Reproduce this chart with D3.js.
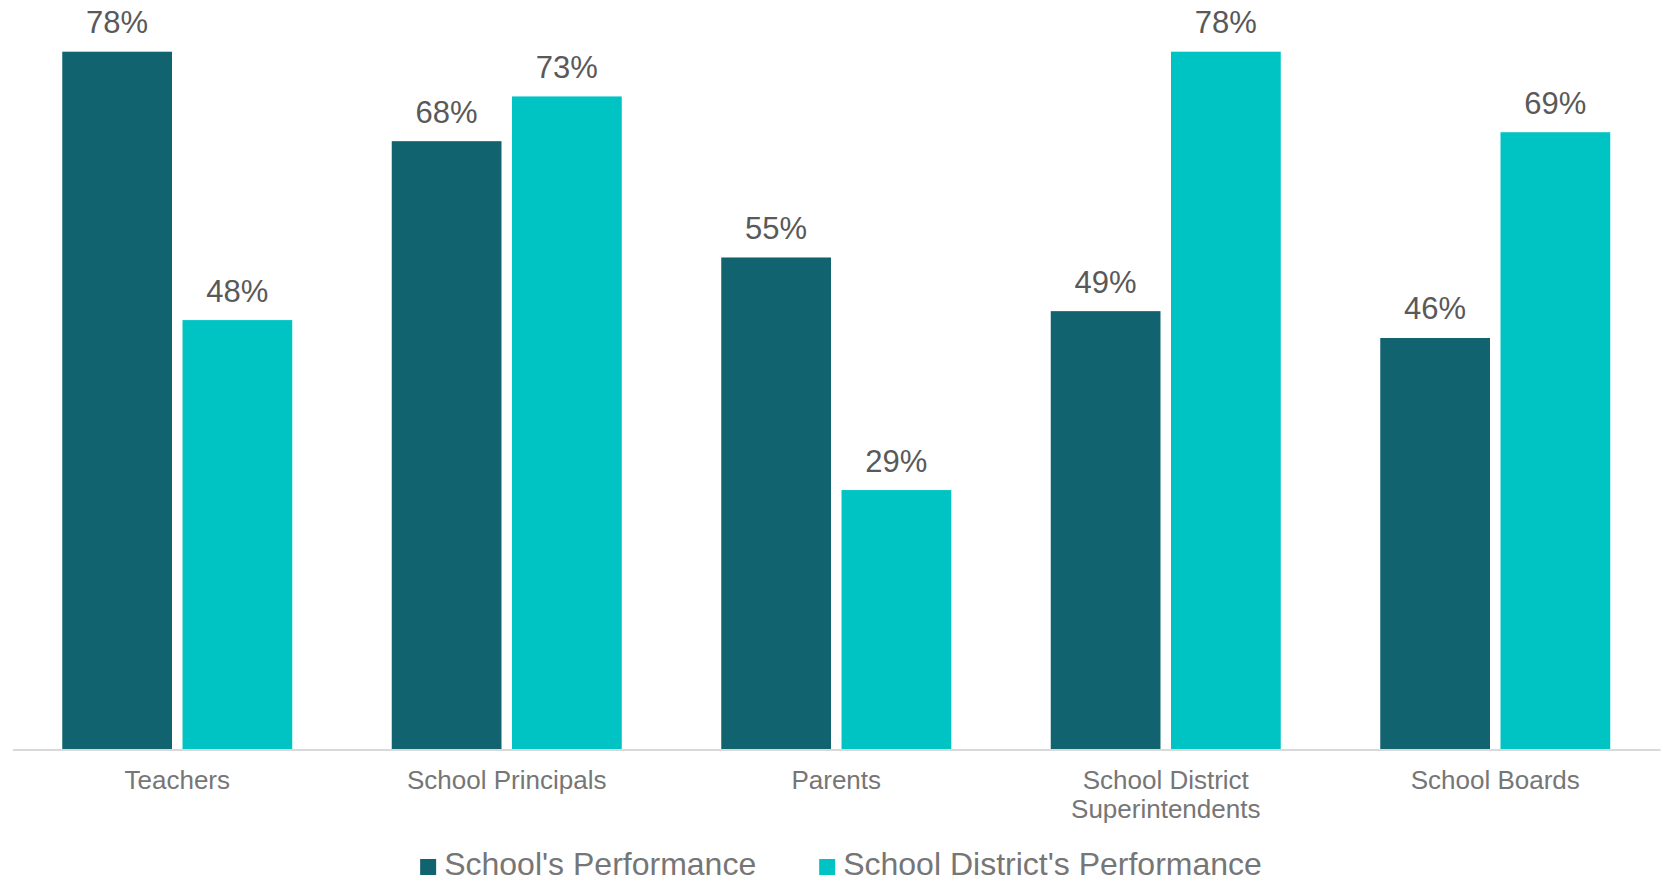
<!DOCTYPE html>
<html>
<head>
<meta charset="utf-8">
<script src="https://cdn.jsdelivr.net/npm/d3@7"></script>
<style>
  html, body { margin: 0; padding: 0; background: #ffffff; }
  svg { display: block; font-family: "Liberation Sans", Arial, sans-serif; }
</style>
</head>
<body>
<svg id="chart" width="1663" height="882"></svg>
<script>
const categories = ["Teachers", "School Principals", "Parents", "School District Superintendents", "School Boards"];
const seriesNames = ["School's Performance", "School District's Performance"];
const schoolValues = [78, 68, 55, 49, 46];
const districtValues = [48, 73, 29, 78, 69];
const seriesColors = ["#116370", "#00C3C3"];

const svg = d3.select("#chart");
const baseY = 749.5;

const x0 = d3.scaleBand()
  .domain(categories)
  .range([12.5, 1660])
  .paddingInner(0.302)
  .paddingOuter(0.151);

const x1 = d3.scaleBand()
  .domain(seriesNames)
  .range([0, x0.bandwidth()])
  .paddingInner(0.0875)
  .paddingOuter(0);

const y = d3.scaleLinear().domain([0, 80]).range([baseY, baseY - 80 * 8.946]);

const data = categories.map((c, i) => ({
  cat: c,
  vals: [
    { s: seriesNames[0], v: schoolValues[i], color: seriesColors[0] },
    { s: seriesNames[1], v: districtValues[i], color: seriesColors[1] }
  ]
}));

const groups = svg.append("g").selectAll("g")
  .data(data).join("g")
  .attr("transform", d => `translate(${x0(d.cat)},0)`);

groups.selectAll("rect")
  .data(d => d.vals).join("rect")
  .attr("x", d => x1(d.s))
  .attr("width", x1.bandwidth())
  .attr("y", d => y(d.v))
  .attr("height", d => y(0) - y(d.v))
  .attr("fill", d => d.color);

groups.selectAll("text.val")
  .data(d => d.vals).join("text")
  .attr("class", "val")
  .attr("x", d => x1(d.s) + x1.bandwidth() / 2)
  .attr("y", d => y(d.v) - 18.5)
  .attr("text-anchor", "middle")
  .attr("font-size", 31)
  .attr("fill", "#595959")
  .text(d => d.v + "%");

// x axis
const xAxis = d3.axisBottom(x0).tickSize(0).tickSizeOuter(0);
const axisG = svg.append("g")
  .attr("transform", `translate(0,${baseY})`)
  .call(xAxis);
axisG.select(".domain").attr("stroke", "#D9D9D9").attr("stroke-width", 2);
axisG.selectAll(".tick text")
  .attr("font-family", "Liberation Sans, Arial, sans-serif")
  .attr("font-size", 26)
  .attr("fill", "#767676")
  .attr("y", 39.5)
  .attr("dy", 0)
  .each(function () {
    const t = d3.select(this);
    const words = t.text().split(/\s+/);
    const maxW = 300;
    t.text(null);
    let line = [];
    let tspan = t.append("tspan").attr("x", 0).attr("dy", 0);
    words.forEach(w => {
      line.push(w);
      tspan.text(line.join(" "));
      if (tspan.node().getComputedTextLength() > maxW && line.length > 1) {
        line.pop();
        tspan.text(line.join(" "));
        line = [w];
        tspan = t.append("tspan").attr("x", 0).attr("dy", 28.6).text(w);
      }
    });
  });

// legend
const legend = svg.append("g");
const items = legend.selectAll("g").data(seriesNames).join("g");
items.append("rect")
  .attr("width", 16).attr("height", 16)
  .attr("y", 859)
  .attr("fill", (d, i) => seriesColors[i]);
items.append("text")
  .attr("x", 24)
  .attr("y", 875)
  .attr("font-size", 32)
  .attr("fill", "#767676")
  .text(d => d);
let widths = [];
items.each(function () {
  widths.push(24 + d3.select(this).select("text").node().getComputedTextLength());
});
const gap = 63;
const total = d3.sum(widths) + gap * (widths.length - 1);
let cx = 841 - total / 2;
items.attr("transform", (d, i) => {
  const tx = cx;
  cx += widths[i] + gap;
  return `translate(${tx},0)`;
});
</script>
</body>
</html>
